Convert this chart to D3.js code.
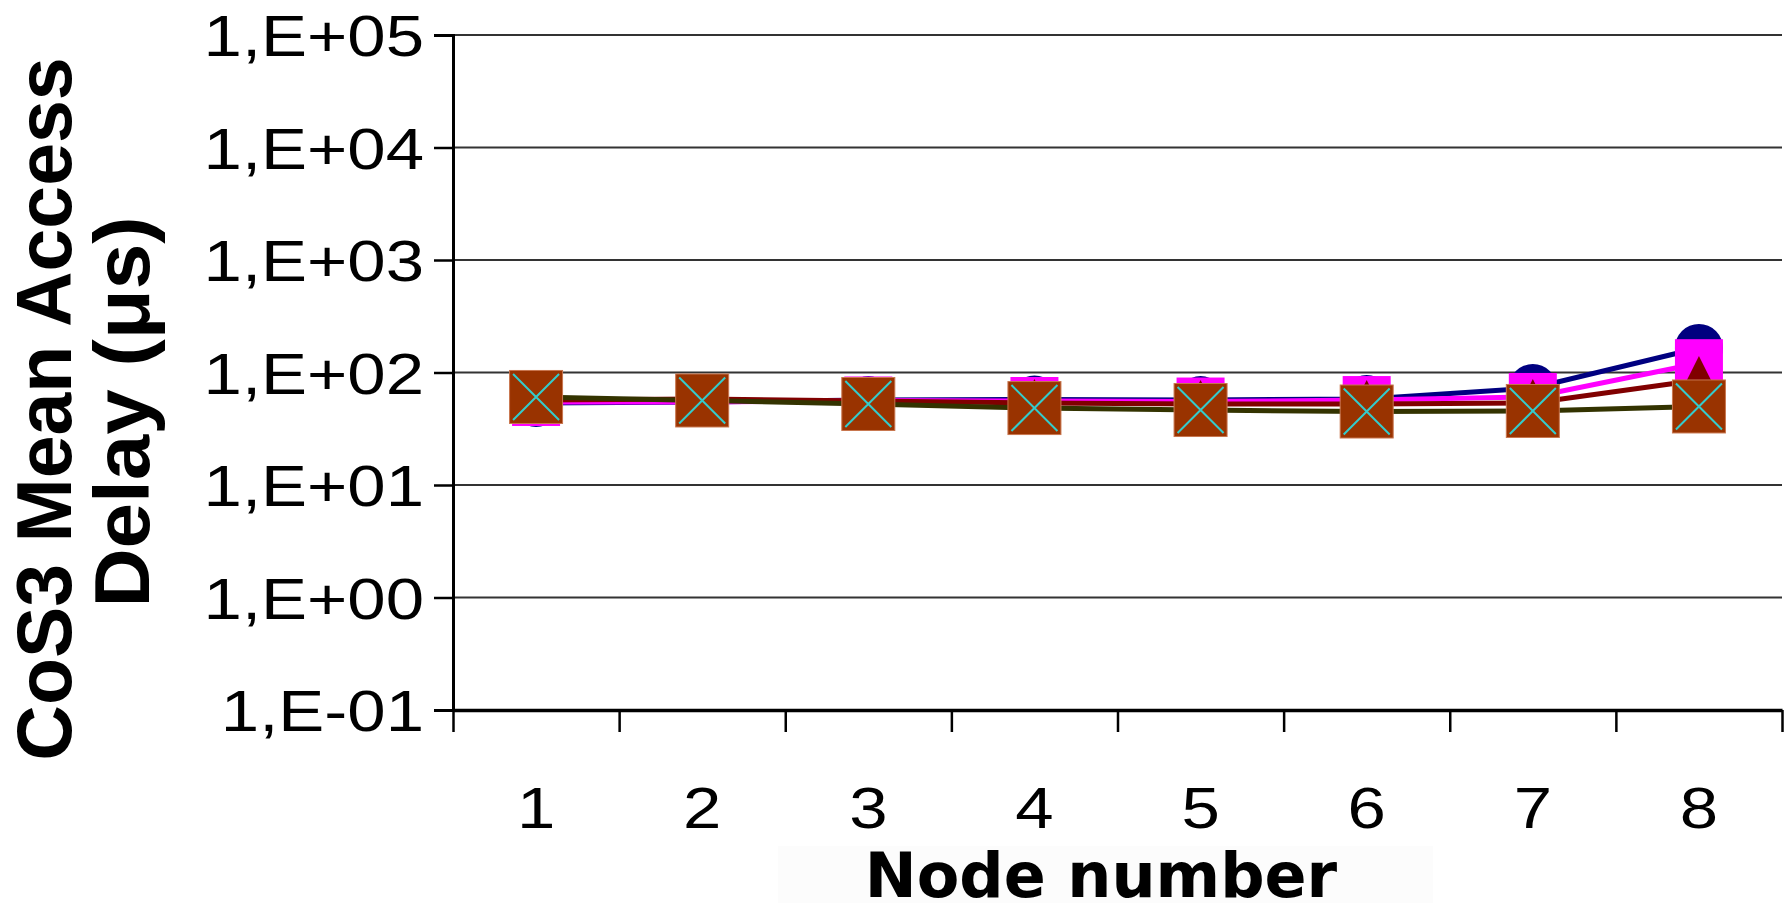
<!DOCTYPE html>
<html>
<head>
<meta charset="utf-8">
<script src="https://cdn.jsdelivr.net/npm/d3@7"></script>
<style>
  html, body { margin: 0; padding: 0; background: #ffffff; }
  svg { display: block; }
</style>
</head>
<body>
<svg id="chart" width="1787" height="903"></svg>
<script>
// ---- data ----
const categories = [1, 2, 3, 4, 5, 6, 7, 8];
const yTickValues = [0.1, 1, 10, 100, 1000, 10000, 100000];
const yTickLabels = ["1,E-01", "1,E+00", "1,E+01", "1,E+02", "1,E+03", "1,E+04", "1,E+05"];
const seriesNavy    = [53.6, 54.7, 56.9, 57.5, 56.9, 58.1, 72.8, 165];
const seriesMagenta = [54.7, 54.7, 56.4, 55.8, 55.2, 56.9, 60.6, 121];
const seriesDarkRed = [56.9, 58.1, 55.8, 53.6, 52.5, 52.5, 53.6, 85.8];
const seriesBrown   = [60.6, 56.4, 52.5, 48.3, 46.4, 45.0, 45.5, 49.9];
const xTitle = "Node number";
const yTitleLines = ["CoS3 Mean Access", "Delay (μs)"];

// ---- layout ----
(function () {
const svg = d3.select("#chart");
const pLeft = 453, pRight = 1782, pTop = 35, pBottom = 710;

const x = d3.scaleBand().domain(categories).range([pLeft, pRight]).padding(0);
const xEdge = d3.scaleLinear().domain([0, categories.length]).range([pLeft, pRight]);
const y = d3.scaleLog().domain([0.1, 100000]).range([pBottom, pTop]);
const cx = c => x(c) + x.bandwidth() / 2;

// gridlines
svg.append("g").selectAll("line")
  .data(yTickValues.filter(v => v > 0.1))
  .join("line")
  .attr("x1", pLeft).attr("x2", pRight)
  .attr("y1", d => y(d)).attr("y2", d => y(d))
  .attr("stroke", "#333").attr("stroke-width", 2);

// y axis
const yAxis = svg.append("g").attr("transform", `translate(${pLeft},0)`)
  .call(d3.axisLeft(y).tickValues(yTickValues).tickSize(19).tickFormat(""));
yAxis.select(".domain").attr("stroke", "#000").attr("stroke-width", 3);
yAxis.selectAll(".tick line").attr("stroke", "#000").attr("stroke-width", 2.5);

// x axis
const xAxis = svg.append("g").attr("transform", `translate(0,${pBottom})`)
  .call(d3.axisBottom(xEdge).tickValues(d3.range(0, categories.length + 1)).tickSize(22).tickSizeOuter(0).tickFormat(""));
xAxis.select(".domain").attr("stroke", "#000").attr("stroke-width", 3.5);
xAxis.selectAll(".tick line").attr("stroke", "#000").attr("stroke-width", 2.5);

// y tick labels
svg.append("g").selectAll("g")
  .data(yTickValues)
  .join("g")
  .attr("transform", d => `translate(424,${y(d) + 21})`)
  .append("text")
  .attr("transform", "scale(1.21,1)")
  .attr("text-anchor", "end")
  .attr("font-family", "Liberation Sans, Arial, sans-serif")
  .attr("font-size", 57)
  .attr("fill", "#000")
  .text((d, i) => yTickLabels[i]);

// x tick labels
svg.append("g").selectAll("g")
  .data(categories)
  .join("g")
  .attr("transform", d => `translate(${cx(d)},828)`)
  .append("text")
  .attr("transform", "scale(1.21,1)")
  .attr("text-anchor", "middle")
  .attr("font-family", "Liberation Sans, Arial, sans-serif")
  .attr("font-size", 57)
  .attr("fill", "#000")
  .text(d => d);

// x title
svg.append("rect").attr("x", 778).attr("y", 846).attr("width", 655).attr("height", 57).attr("fill", "#fcfcfc");
svg.append("text")
  .attr("x", 1101).attr("y", 897)
  .attr("text-anchor", "middle")
  .attr("font-family", "DejaVu Sans, Verdana, sans-serif")
  .attr("font-weight", "bold")
  .attr("font-size", 62)
  .attr("fill", "#000")
  .text(xTitle);

// y title (two rotated lines)
const yTitleBase = [71, 149];
const yTitleCenter = [409, 412];
yTitleLines.forEach((t, i) => {
  const tx = svg.append("text")
    .attr("transform", `translate(${yTitleBase[i]},${yTitleCenter[i]}) rotate(-90)`)
    .attr("text-anchor", "middle")
    .attr("font-family", "Liberation Sans, Arial, sans-serif")
    .attr("font-weight", "bold")
    .attr("font-size", 77)
    .attr("fill", "#000")
    .text(t);
  if (i === 1) tx.attr("textLength", 391).attr("lengthAdjust", "spacingAndGlyphs");
});

// series
const series = [
  { name: "s1", values: seriesNavy, color: "#000080", marker: "circle" },
  { name: "s2", values: seriesMagenta, color: "#FF00FF", marker: "square" },
  { name: "s3", values: seriesDarkRed, color: "#800000", marker: "triangle" },
  { name: "s4", values: seriesBrown, color: "#333300", marker: "xsquare" }
];

const line = d3.line().x((d, i) => cx(categories[i])).y(d => y(d));

const lineG = svg.append("g");
series.forEach(s => {
  lineG.append("path")
    .datum(s.values)
    .attr("d", line)
    .attr("fill", "none")
    .attr("stroke", s.color)
    .attr("stroke-width", 5)
    .attr("stroke-linejoin", "miter");
});

const markG = svg.append("g");
series.forEach(s => {
  const g = markG.append("g");
  const pts = s.values.map((v, i) => ({ x: cx(categories[i]), y: y(v) }));
  if (s.marker === "circle") {
    g.selectAll("circle").data(pts).join("circle")
      .attr("cx", d => d.x).attr("cy", d => d.y).attr("r", 24)
      .attr("fill", "#000080");
  } else if (s.marker === "square") {
    g.selectAll("rect").data(pts).join("rect")
      .attr("x", d => d.x - 24).attr("y", d => d.y - 24)
      .attr("width", 48).attr("height", 48)
      .attr("fill", "#FF00FF");
  } else if (s.marker === "triangle") {
    g.selectAll("path").data(pts).join("path")
      .attr("d", d => `M${d.x},${d.y - 24}L${d.x + 24},${d.y + 24}L${d.x - 24},${d.y + 24}Z`)
      .attr("fill", "#800000");
  } else {
    const half = 26.5;
    g.selectAll("rect").data(pts).join("rect")
      .attr("x", d => d.x - half).attr("y", d => d.y - half)
      .attr("width", half * 2).attr("height", half * 2)
      .attr("fill", "#993300").attr("stroke", "#c8764f").attr("stroke-width", 1);
    const inset = 23;
    g.selectAll("path.x1").data(pts).join("path")
      .attr("class", "x1")
      .attr("d", d => `M${d.x - inset},${d.y - inset}L${d.x + inset},${d.y + inset}M${d.x + inset},${d.y - inset}L${d.x - inset},${d.y + inset}`)
      .attr("stroke", "#33CCCC").attr("stroke-width", 2).attr("fill", "none");
  }
});
})();
</script>
</body>
</html>
